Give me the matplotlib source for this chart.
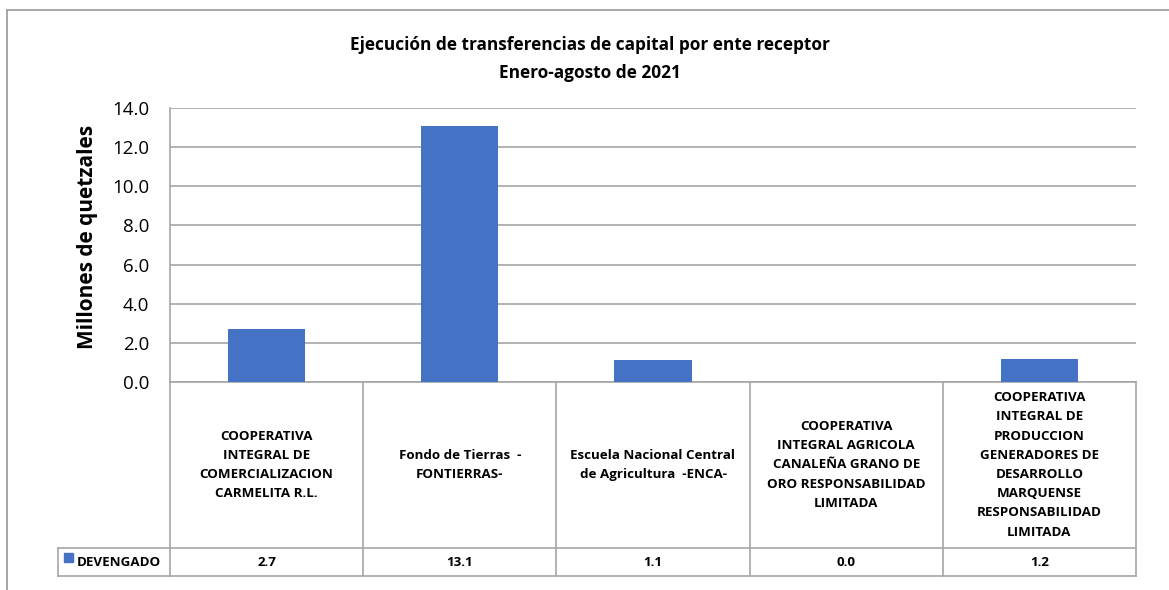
import matplotlib
matplotlib.use("Agg")
import matplotlib.pyplot as plt
from matplotlib.transforms import blended_transform_factory
from matplotlib.patches import Rectangle

categories = [
    "COOPERATIVA\nINTEGRAL DE\nCOMERCIALIZACION\nCARMELITA R.L.",
    "Fondo de Tierras  -\nFONTIERRAS-",
    "Escuela Nacional Central\nde Agricultura  -ENCA-",
    "COOPERATIVA\nINTEGRAL AGRICOLA\nCANALEÑA GRANO DE\nORO RESPONSABILIDAD\nLIMITADA",
    "COOPERATIVA\nINTEGRAL DE\nPRODUCCION\nGENERADORES DE\nDESARROLLO\nMARQUENSE\nRESPONSABILIDAD\nLIMITADA",
]
devengado = [2.7, 13.1, 1.1, 0.0, 1.2]
series_name = "DEVENGADO"
yticks = [0, 2, 4, 6, 8, 10, 12, 14]
title = "Ejecución de transferencias de capital por ente receptor\nEnero-agosto de 2021"
ylabel = "Millones de quetzales"

BLUE = "#4472C4"
GRID = "#A6A6A6"
FONT = ["Open Sans", "DejaVu Sans"]
plt.rcParams["font.family"] = FONT

W, H = 1169, 590
fig = plt.figure(figsize=(W / 100, H / 100), dpi=100)

ov = fig.add_axes([0, 0, 1, 1])
ov.set_xlim(0, W)
ov.set_ylim(H, 0)
ov.axis("off")

ov.plot([7, 7], [10, H + 5], color="#A0A0A0", lw=1.3, clip_on=False)
ov.plot([7, W + 5], [10, 10], color="#A0A0A0", lw=1.3, clip_on=False)

L, R, T, B = 170, 1136, 108, 382
ax = fig.add_axes([L / W, (H - B) / H, (R - L) / W, (B - T) / H])
x = list(range(len(categories)))
ax.bar(x, devengado, width=0.4, color=BLUE, zorder=3)
ax.set_xlim(-0.5, len(categories) - 0.5)
ax.set_ylim(0, 14)
ax.set_yticks(yticks)
ax.set_yticklabels([f"{v:.1f}" for v in yticks], fontsize=13.5)
ax.tick_params(axis="y", length=0, pad=15)
ax.set_xticks([])
ax.grid(axis="y", color=GRID, lw=1.2, zorder=0)
for s in ["top", "right", "bottom"]:
    ax.spines[s].set_visible(False)
ax.spines["left"].set_color(GRID)
ax.spines["left"].set_linewidth(1.2)
ax.set_ylabel(ylabel, fontsize=15, fontweight="bold", va="center")
ax.yaxis.set_label_coords((87 - L) / (R - L), (B - 237) / (B - T))

fig.text(590 / W, 1 - 59 / H, title, ha="center", va="center",
         fontsize=12.4, fontweight="bold", linespacing=1.65)

tr = blended_transform_factory(ax.transData, ax.transAxes)
y_row1 = -(548 - B) / (B - T)
y_row2 = -(576 - B) / (B - T)
kw = dict(color=GRID, lw=1.2, clip_on=False, transform=tr)
n = len(categories)
for i in range(n + 1):
    xb = i - 0.5
    ax.plot([xb, xb], [0, y_row2], **kw)
ax.plot([-0.5, n - 0.5], [0, 0], **kw)
ax.plot([-0.5, n - 0.5], [y_row1, y_row1], **kw)
ax.plot([-0.5, n - 0.5], [y_row2, y_row2], **kw)
for i, (c, v) in enumerate(zip(categories, devengado)):
    ax.text(i, y_row1 / 2, c, transform=tr, ha="center", va="center",
            fontsize=9.6, fontweight="bold", linespacing=1.62, clip_on=False)
    ax.text(i, (y_row1 + y_row2) / 2, f"{v:.1f}", transform=tr, ha="center",
            va="center", fontsize=9.6, fontweight="bold", clip_on=False)

ov.plot([58, L], [548, 548], color=GRID, lw=1.2)
ov.plot([58, L], [576, 576], color=GRID, lw=1.2)
ov.plot([58, 58], [548, 576], color=GRID, lw=1.2)
ov.add_patch(Rectangle((64, 553), 9, 9, color=BLUE))
ov.text(77, 562, series_name, ha="left", va="center", fontsize=9.6,
        fontweight="bold")

fig.savefig("out.png", dpi=100)
